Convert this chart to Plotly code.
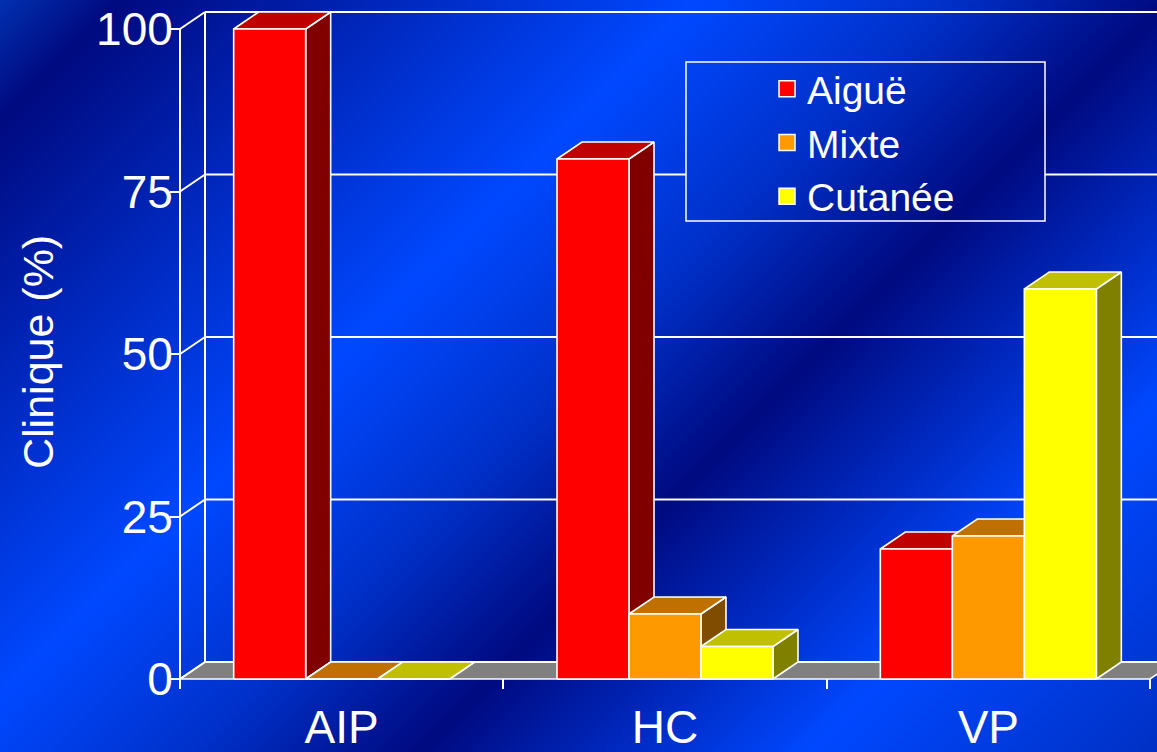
import base64
import plotly.graph_objects as go

# ---- data -------------------------------------------------------------
categories = ["AIP", "HC", "VP"]
series_names = ["Aiguë", "Mixte", "Cutanée"]
aigue = [100, 80, 20]
mixte = [0, 10, 22]
cutanee = [0, 5, 60]
y_ticks = [0, 25, 50, 75, 100]
y_title = "Clinique (%)"

series_values = [aigue, mixte, cutanee]

# ---- styling ----------------------------------------------------------
FRONT = ["#ff0000", "#ff9900", "#ffff00"]
TOP = ["#c00000", "#c07000", "#c0c000"]
SIDE = ["#800000", "#804c00", "#808000"]
FLOOR = "#808080"
EDGE = "white"
FONT = "Liberation Sans, Arial, sans-serif"

W, H = 1157, 752
PX_PER_X = 970 / 3          # pixels per category slot
PX_PER_Y = 6.5              # pixels per percent
X0_PX, Y0_PX = 180, 679     # pixel position of the (0, 0) corner
X_PAD, Y_PAD = 0.03, 1.6    # room around the origin so edges are not clipped
DX = 25 / PX_PER_X          # depth offset of the 3-D boxes
DY = 17 / PX_PER_Y
BAR_W = 72 / PX_PER_X
N_CAT = len(categories)

x_range = [-X_PAD, (W - X0_PX) / PX_PER_X]
y_range = [-Y_PAD, Y0_PX / PX_PER_Y]
x_domain = [(X0_PX - X_PAD * PX_PER_X) / W, 1]
y_domain = [(H - (Y0_PX + Y_PAD * PX_PER_Y)) / H, 1]

# diagonal blue background (position along x+y, colour)
BG_STOPS = [
    (0, "#0030b0"),
    (120, "#000a80"),
    (700, "#0048ff"),
    (950, "#0030c8"),
    (1170, "#000a80"),
    (1560, "#0048ff"),
    (1909, "#0030c4"),
]


def gradient_uri(x, y, w, h):
    span = W + H
    stops = "".join(
        f'<stop offset="{s / span:.4f}" stop-color="{c}"/>' for s, c in BG_STOPS
    )
    svg = (
        f'<svg xmlns="http://www.w3.org/2000/svg" width="{w}" height="{h}" '
        f'viewBox="{x} {y} {w} {h}" preserveAspectRatio="none">'
        f'<defs><linearGradient id="g" gradientUnits="userSpaceOnUse" '
        f'x1="0" y1="0" x2="{span / 2}" y2="{span / 2}">{stops}</linearGradient></defs>'
        f'<rect x="0" y="0" width="{W}" height="{H}" fill="url(#g)"/></svg>'
    )
    return "data:image/svg+xml;base64," + base64.b64encode(svg.encode()).decode()


def polys(shapes):
    xs, ys = [], []
    for pts in shapes:
        for px, py in pts + [pts[0]]:
            xs.append(px)
            ys.append(py)
        xs.append(None)
        ys.append(None)
    return xs, ys


def face_trace(shapes, color):
    xs, ys = polys(shapes)
    return go.Scatter(
        x=xs, y=ys, mode="lines", fill="toself", fillcolor=color,
        line=dict(color=EDGE, width=1.6), showlegend=False, hoverinfo="skip",
    )


fig = go.Figure()

# floor
fig.add_trace(face_trace(
    [[(0, 0), (N_CAT, 0), (N_CAT + DX, DY), (DX, DY)]], FLOOR))

# back wall grid, left wall edge, connectors and front value axis
gx, gy = [], []
for v in y_ticks:
    gx += [DX, N_CAT + 2 * DX, None, 0, DX, None]
    gy += [v + DY, v + DY, None, v, v + DY, None]
gx += [DX, DX, None, 0, 0]
gy += [DY, y_ticks[-1] + DY, None, 0, y_ticks[-1]]
fig.add_trace(go.Scatter(x=gx, y=gy, mode="lines",
                         line=dict(color=EDGE, width=2),
                         showlegend=False, hoverinfo="skip"))

# 3-D bars, drawn series by series so later boxes hide earlier side faces
for i, vals in enumerate(series_values):
    sides, tops, fronts = [], [], []
    for j, h in enumerate(vals):
        x0 = j + 0.5 + (i - 1.5) * BAR_W
        x1 = x0 + BAR_W
        sides.append([(x1, 0), (x1 + DX, DY), (x1 + DX, h + DY), (x1, h)])
        tops.append([(x0, h), (x1, h), (x1 + DX, h + DY), (x0 + DX, h + DY)])
        fronts.append([(x0, 0), (x1, 0), (x1, h), (x0, h)])
    fig.add_trace(face_trace(sides, SIDE[i]))
    fig.add_trace(face_trace(tops, TOP[i]))
    fig.add_trace(face_trace(fronts, FRONT[i]))

# legend entries
for i, name in enumerate(series_names):
    fig.add_trace(go.Scatter(
        x=[None], y=[None], mode="markers", name=name,
        marker=dict(symbol="square", size=16, color=FRONT[i],
                    line=dict(color=EDGE, width=1.5)),
    ))

LEG_X, LEG_Y, LEG_W, LEG_H = 686, 62, 359, 159

fig.update_layout(
    width=W, height=H,
    margin=dict(l=0, r=0, t=0, b=0, pad=0),
    paper_bgcolor="#0030c0",
    plot_bgcolor="rgba(0,0,0,0)",
    font=dict(family=FONT, color="white"),
    xaxis=dict(
        range=x_range, domain=x_domain, showgrid=False, zeroline=False,
        showline=False, automargin=False, tickmode="array",
        tickvals=[j + 0.5 for j in range(N_CAT)], ticktext=categories,
        ticks="", tickfont=dict(size=46, color="white"),
        ticklabelstandoff=7,
        minor=dict(tickmode="array", tickvals=list(range(N_CAT + 1)),
                   ticks="inside", ticklen=10, tickwidth=2, tickcolor=EDGE),
        fixedrange=True,
    ),
    yaxis=dict(
        range=y_range, domain=y_domain, anchor="free", position=X0_PX / W,
        showgrid=False, zeroline=False, showline=False, automargin=False,
        tickmode="array", tickvals=y_ticks, ticks="outside", ticklen=10,
        tickwidth=2, tickcolor=EDGE, tickfont=dict(size=46, color="white"),
        ticklabelstandoff=-12,
        fixedrange=True,
    ),
    legend=dict(
        x=767 / W, y=1 - 57 / H, xanchor="left", yanchor="top",
        bgcolor="rgba(0,0,0,0)", borderwidth=0,
        font=dict(size=39, color="white", family=FONT),
        tracegroupgap=0,
    ),
    images=[
        dict(source=gradient_uri(0, 0, W, H), xref="paper", yref="paper",
             x=0, y=1, sizex=1, sizey=1, sizing="stretch", layer="below"),
        dict(source=gradient_uri(LEG_X, LEG_Y, LEG_W, LEG_H),
             xref="paper", yref="paper", x=LEG_X / W, y=1 - LEG_Y / H,
             sizex=LEG_W / W, sizey=LEG_H / H, sizing="stretch", layer="above"),
    ],
    shapes=[
        dict(type="rect", xref="paper", yref="paper",
             x0=LEG_X / W, x1=(LEG_X + LEG_W) / W,
             y0=1 - (LEG_Y + LEG_H) / H, y1=1 - LEG_Y / H,
             line=dict(color=EDGE, width=1.5), layer="above"),
    ],
    annotations=[
        dict(text=y_title, xref="paper", yref="paper", x=38 / W, y=1 - 352 / H,
             xanchor="center", yanchor="middle", textangle=-90, showarrow=False,
             font=dict(size=43, color="white", family=FONT)),
    ],
    showlegend=True,
)

fig.write_html("out.html")
